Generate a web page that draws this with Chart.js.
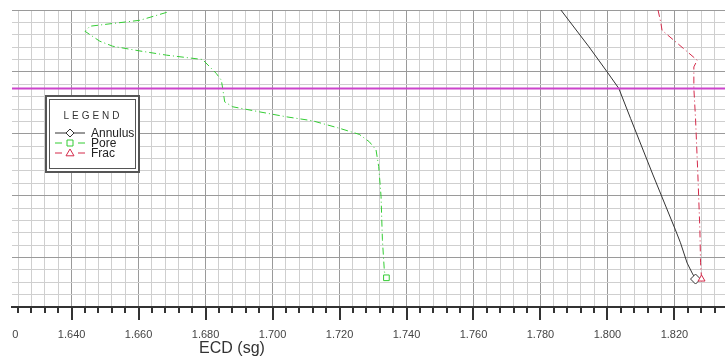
<!DOCTYPE html>
<html>
<head>
<meta charset="utf-8">
<script src="https://cdn.jsdelivr.net/npm/chart.js@4.4.0/dist/chart.umd.min.js"></script>
<style>
  html, body { margin: 0; padding: 0; background: #fff; overflow: hidden; }
  #wrap { position: relative; width: 725px; height: 359px; }
  #ecdChart { display: block; }
</style>
</head>
<body>
<div id="wrap"><canvas id="ecdChart"></canvas></div>
<script>
// ECD (sg) against depth.
const annulusEcd   = [1.7861, 1.7945, 1.7999, 1.8034, 1.8069, 1.8136, 1.8203, 1.8218, 1.8238, 1.8253, 1.8263];
const annulusDepth = [1500.0, 1529.8, 1550.0, 1563.4, 1587.6, 1633.3, 1677.7, 1688.1, 1704.5, 1712.6, 1717.4];

const poreEcd   = [1.6684, 1.6604, 1.6529, 1.6455, 1.6440, 1.6484, 1.6523, 1.6604, 1.6684, 1.6791, 1.6832, 1.6847,
                   1.6852, 1.6857, 1.6881, 1.6961, 1.7041, 1.7119, 1.7200, 1.7259, 1.7289, 1.7309, 1.7317, 1.7324,
                   1.7328, 1.7334, 1.7340];
const poreDepth = [1501.9, 1508.3, 1510.7, 1513.1, 1517.2, 1525.2, 1529.3, 1533.1, 1536.5, 1540.0, 1551.3, 1556.7,
                   1564.8, 1574.2, 1578.2, 1582.3, 1586.3, 1589.5, 1595.6, 1600.5, 1606.5, 1613.1, 1626.6, 1650.8,
                   1685.7, 1711.5, 1716.4];

const fracEcd   = [1.8151, 1.8159, 1.8163, 1.8198, 1.8233, 1.8268, 1.8258, 1.8258, 1.8263, 1.8270, 1.8276, 1.8278, 1.8281];
const fracDepth = [1500.0, 1509.7, 1516.4, 1524.4, 1532.5, 1540.6, 1546.0, 1563.4, 1587.6, 1633.3, 1677.7, 1704.3, 1717.4];

// casing shoe (magenta line)
const shoeDepth = 1563.4;

// axis range and labels
const xMin = 1.6222;
const xMax = 1.8351;
const depthTop = 1500;
const depthBottom = 1740;
const xTickLabels = ['1.620', '1.640', '1.660', '1.680', '1.700', '1.720', '1.740', '1.760', '1.780', '1.800', '1.820'];
const xTitle = 'ECD (sg)';
const legendTitle = 'LEGEND';

const FONT = '"Liberation Sans", Arial, sans-serif';

function toPoints(xs, ys) {
    return xs.map((v, i) => ({ x: v, y: ys[i] }));
}

// marker only on the last point of each curve
function lastPointRadius(r) {
    return (c) => (c.dataIndex === c.dataset.data.length - 1 ? r : 0);
}

function drawMarker(ctx, style, cx, cy, r, color) {
    ctx.save();
    ctx.fillStyle = '#fff';
    ctx.strokeStyle = color;
    ctx.lineWidth = 1;
    ctx.setLineDash([]);
    ctx.beginPath();
    if (style === 'rectRot') {
        ctx.moveTo(cx, cy - r); ctx.lineTo(cx + r, cy); ctx.lineTo(cx, cy + r); ctx.lineTo(cx - r, cy);
    } else if (style === 'rect') {
        const s = r * 0.75;
        ctx.rect(cx - s, cy - s, 2 * s, 2 * s);
    } else {
        ctx.moveTo(cx, cy - r); ctx.lineTo(cx + r, cy + r * 0.7); ctx.lineTo(cx - r, cy + r * 0.7);
    }
    ctx.closePath();
    ctx.fill();
    ctx.stroke();
    ctx.restore();
}

// ticks, clipped first label, axis title and the boxed legend
const extrasPlugin = {
    id: 'extras',
    afterDraw(chart) {
        const ctx = chart.ctx;
        const xs = chart.scales.x;
        const area = chart.chartArea;

        // tick marks under the axis line: long on labelled values, short otherwise
        ctx.save();
        ctx.strokeStyle = '#333';
        ctx.lineWidth = 2;
        xs.ticks.forEach(t => {
            const px = Math.round(xs.getPixelForValue(t.value));
            const major = Math.round(t.value * 1000) % 20 === 0;
            ctx.beginPath();
            ctx.moveTo(px, area.bottom);
            ctx.lineTo(px, area.bottom + (major ? 13 : 6));
            ctx.stroke();
        });
        ctx.restore();

        // first label sits half outside the plot and is cut at its left edge
        ctx.save();
        ctx.beginPath();
        ctx.rect(area.left, area.bottom, chart.width - area.left, chart.height - area.bottom);
        ctx.clip();
        ctx.fillStyle = '#444';
        ctx.font = '11px ' + FONT;
        ctx.textAlign = 'center';
        ctx.textBaseline = 'middle';
        ctx.fillText(xTickLabels[0], xs.getPixelForValue(Number(xTickLabels[0])), xs.top + 21 + 6.6);
        ctx.restore();

        // axis title
        ctx.save();
        ctx.fillStyle = '#333';
        ctx.font = '16px ' + FONT;
        ctx.textAlign = 'center';
        ctx.textBaseline = 'middle';
        ctx.fillText(xTitle, 232, 349);
        ctx.restore();

        // legend box
        const lx = 45, ly = 95, lw = 95, lh = 78;
        ctx.save();
        ctx.fillStyle = '#fff';
        ctx.fillRect(lx, ly, lw, lh);
        ctx.strokeStyle = '#555';
        ctx.lineWidth = 2;
        ctx.strokeRect(lx + 1, ly + 1, lw - 2, lh - 2);
        ctx.lineWidth = 1;
        ctx.strokeRect(lx + 4.5, ly + 4.5, lw - 9, lh - 9);

        ctx.fillStyle = '#333';
        ctx.font = '10px ' + FONT;
        ctx.textAlign = 'center';
        ctx.textBaseline = 'middle';
        if ('letterSpacing' in ctx) ctx.letterSpacing = '3px';
        ctx.fillText(legendTitle, lx + 48, ly + 21);
        if ('letterSpacing' in ctx) ctx.letterSpacing = '0px';

        ctx.font = '12px ' + FONT;
        ctx.textAlign = 'left';
        chart.data.datasets.filter(d => d.legendRow !== undefined).forEach(d => {
            const ry = ly + 38 + d.legendRow * 10;
            ctx.strokeStyle = d.borderColor;
            ctx.lineWidth = 1;
            ctx.beginPath();
            if (d.borderDash && d.borderDash.length) {
                ctx.moveTo(lx + 10, ry); ctx.lineTo(lx + 17, ry);
                ctx.moveTo(lx + 33, ry); ctx.lineTo(lx + 40, ry);
            } else {
                ctx.moveTo(lx + 10, ry); ctx.lineTo(lx + 40, ry);
            }
            ctx.stroke();
            drawMarker(ctx, d.pointStyle, lx + 25, ry, 4, d.borderColor);
            ctx.fillStyle = '#222';
            ctx.fillText(d.label, lx + 46, ry + 1);
        });
        ctx.restore();
    }
};

new Chart(document.getElementById('ecdChart'), {
    type: 'scatter',
    data: {
        datasets: [
            {
                label: 'Shoe',
                data: [{ x: xMin, y: shoeDepth }, { x: xMax, y: shoeDepth }],
                showLine: true,
                borderColor: '#cc44cc',
                borderWidth: 2,
                pointRadius: 0
            },
            {
                label: 'Pore',
                legendRow: 1,
                data: toPoints(poreEcd, poreDepth),
                showLine: true,
                borderColor: '#33cc33',
                borderWidth: 1,
                borderDash: [7, 3, 1, 3],
                pointStyle: 'rect',
                pointRadius: lastPointRadius(4),
                pointBackgroundColor: '#fff',
                pointBorderColor: '#33cc33',
                pointBorderWidth: 1
            },
            {
                label: 'Frac',
                legendRow: 2,
                data: toPoints(fracEcd, fracDepth),
                showLine: true,
                borderColor: '#d42a4a',
                borderWidth: 1,
                borderDash: [7, 3, 1, 3],
                pointStyle: 'triangle',
                pointRadius: lastPointRadius(4),
                pointBackgroundColor: '#fff',
                pointBorderColor: '#d42a4a',
                pointBorderWidth: 1
            },
            {
                label: 'Annulus',
                legendRow: 0,
                data: toPoints(annulusEcd, annulusDepth),
                showLine: true,
                borderColor: '#333333',
                borderWidth: 1,
                pointStyle: 'rectRot',
                pointRadius: lastPointRadius(5),
                pointBackgroundColor: '#fff',
                pointBorderColor: '#333333',
                pointBorderWidth: 1
            }
        ]
    },
    options: {
        responsive: true,
        maintainAspectRatio: false,
        animation: false,
        layout: { autoPadding: false, padding: { left: 12, top: 10, right: 0, bottom: 0 } },
        plugins: {
            legend: { display: false },
            tooltip: { enabled: false }
        },
        scales: {
            x: {
                type: 'linear',
                min: xMin,
                max: xMax,
                afterBuildTicks: (scale) => {
                    const ticks = [];
                    for (let k = 406; k <= 458; k++) ticks.push({ value: +(k * 0.004).toFixed(3) });
                    scale.ticks = ticks;
                },
                afterFit: (scale) => {
                    scale.height = 52;
                    scale.paddingLeft = 0;
                    scale.paddingRight = 0;
                },
                ticks: {
                    autoSkip: false,
                    maxRotation: 0,
                    padding: 21,
                    color: '#444',
                    font: { family: FONT, size: 11 },
                    callback: (v) => {
                        const s = Number(v).toFixed(3);
                        return xTickLabels.includes(s) ? s : '';
                    }
                },
                grid: {
                    drawTicks: false,
                    lineWidth: 1,
                    color: (c) => (Math.round(c.tick.value * 1000) % 20 === 0 ? '#9a9a9a' : '#cfcfcf')
                },
                border: { display: true, color: '#333', width: 2 }
            },
            y: {
                type: 'linear',
                reverse: true,
                min: depthTop,
                max: depthBottom,
                afterFit: (scale) => { scale.width = 0; },
                ticks: { display: false, stepSize: 10 },
                grid: {
                    drawTicks: false,
                    lineWidth: 1,
                    color: (c) => (Math.round(c.tick.value) % 50 === 0 ? '#9a9a9a' : '#cfcfcf')
                },
                border: { display: false }
            }
        }
    },
    plugins: [extrasPlugin]
});
</script>
</body>
</html>
